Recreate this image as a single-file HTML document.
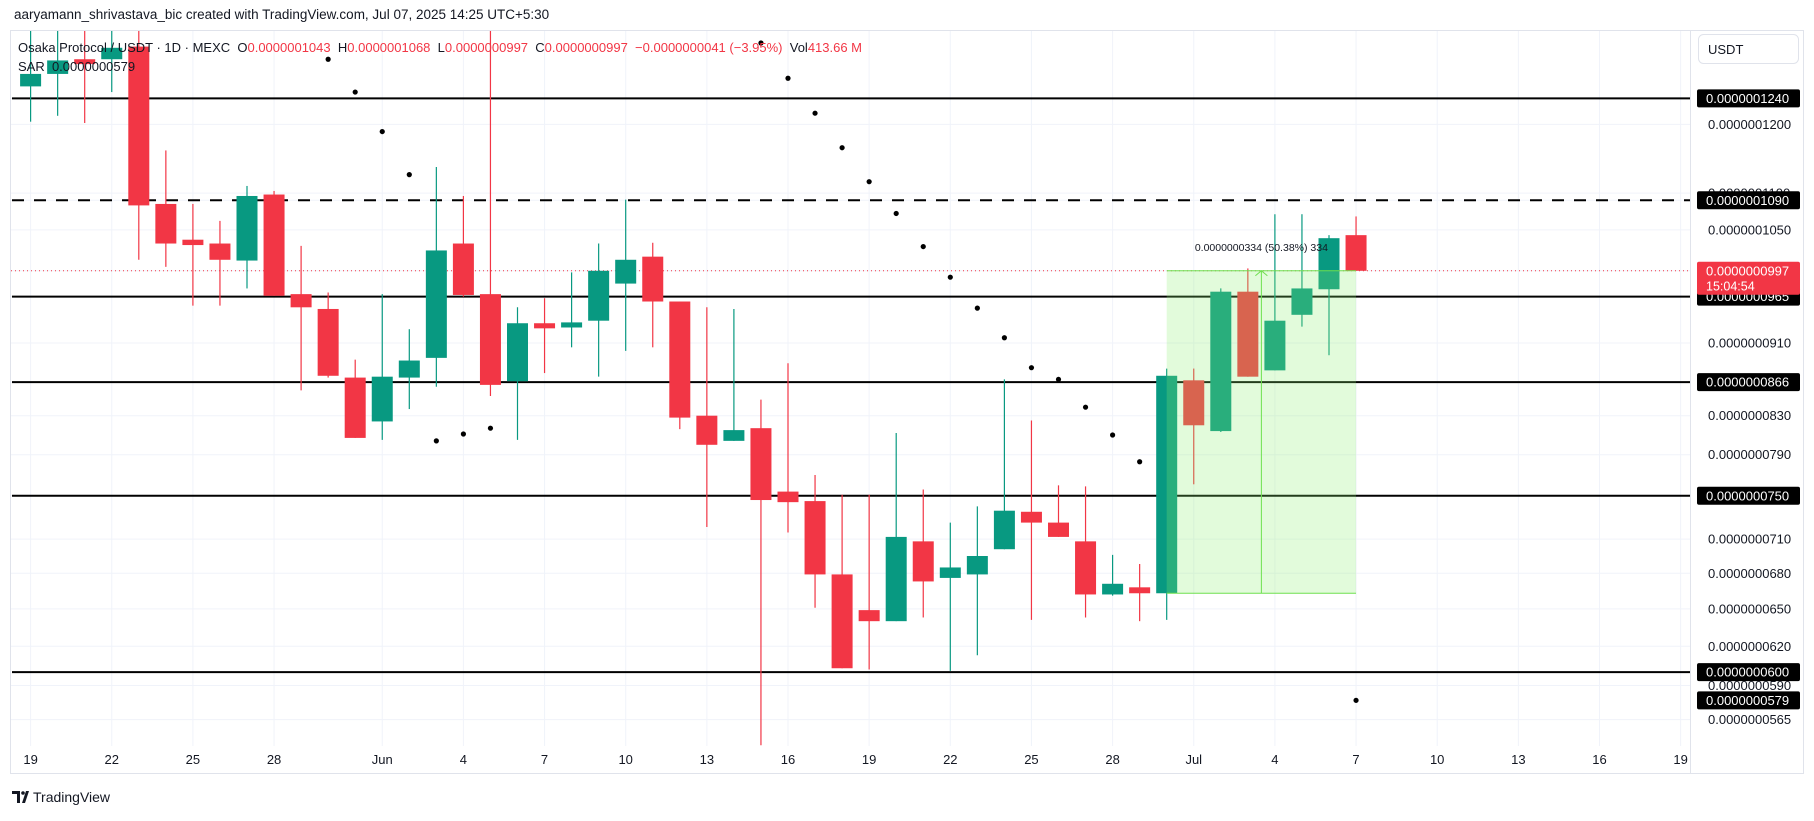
<!DOCTYPE html>
<html><head><meta charset="utf-8">
<style>
body{margin:0;background:#fff;width:1814px;height:816px;overflow:hidden;font-family:"Liberation Sans",sans-serif}
svg text{font-family:"Liberation Sans",sans-serif}
</style></head>
<body>
<svg id="c" width="1814" height="816" xmlns="http://www.w3.org/2000/svg">
<defs><clipPath id="pc"><rect x="11" y="31" width="1679" height="715"/></clipPath></defs>
<text x="14" y="19" font-size="13.5" fill="#131722">aaryamann_shrivastava_bic created with TradingView.com, Jul 07, 2025 14:25 UTC+5:30</text>
<rect x="10.5" y="30.5" width="1793" height="743" fill="none" stroke="#e0e3eb"/>
<line x1="1690.5" y1="31" x2="1690.5" y2="773" stroke="#e0e3eb"/>
<g id="grid"></g>
<g id="plot" clip-path="url(#pc)"></g>
<g id="axis"></g>
<g id="overlay"></g>
</svg>
<script>
const days=[0,1,2,3,4,5,6,7,8,9,10,11,12,13,14,15,16,17,18,19,20,21,22,23,24,25,26,27,28,29,30,31,32,33,34,35,36,37,38,39,40,41,42,43,44,45,46,47,48,49];
const opens=[1259,1279,1303,1303,1324,1085,1037,1032,1010,1098,968,950,871,824,871,893,1032,968,867,933,928,936,981,1015,959,830,804,817,754,745,679,649,640,708,676,679,701,735,725,708,662,668,663,868,814,971,879,943,974,1043];
const highs=[1368,1377,1368,1360,1360,1161,1085,1062,1110,1103,1029,970,891,968,926,1137,1096,1360,952,963,995,1032,1091,1033,959,952,950,847,887,770,751,751,812,756,725,740,869,825,760,759,696,688,881,881,975,1000,1071,1071,1043,1068];
const lows=[1204,1213,1202,1250,1011,1002,954,954,975,966,857,871,807,805,837,861,965,851,805,876,905,872,901,905,816,721,804,547,716,651,603,602,640,643,601,613,701,641,712,643,661,640,641,761,813,872,879,929,896,997];
const closes=[1279,1301,1295,1322,1083,1032,1030,1011,1096,966,952,873,807,872,890,1023,967,863,933,927,934,997,1011,959,828,800,815,746,744,679,603,640,712,673,685,695,736,725,712,662,671,663,873,820,971,872,936,975,1039,997];
const sarDays=[11,12,13,14,15,16,17,27,28,29,30,31,32,33,34,35,36,37,38,39,40,41,49];
const sarVals=[1303,1250,1189,1126,804,811,817,1330,1272,1217,1165,1116,1072,1028,989,951,916,882,869,839,810,783,579];
const tickDays=[0,3,6,9,13,16,19,22,25,28,31,34,37,40,43,46,49,52,55,58,61];
const tickLabels=["19","22","25","28","Jun","4","7","10","13","16","19","22","25","28","Jul","4","7","10","13","16","19"];
const gridPrices=[1240,1200,1100,1090,1050,997,965,910,866,830,790,750,710,680,650,620,590,565];
const axisPrices=[1200,1100,1050,910,830,790,710,680,650,620,590,565];
const levelPrices=[1240,1090,965,866,750,600];
const levelDashed=[false,true,false,false,false,false];
const lastPrice=997;
const rangeFrom=663, rangeTo=997, rangeStart=42, rangeEnd=49;

const NS="http://www.w3.org/2000/svg";
const X=d=>30.6+d*27.05;
const Y=v=>98.4+Math.log(1240/v)*790.4;
const fmt=v=>"0.000000"+String(Math.round(v)).padStart(4,"0");
function el(tag,attrs,parent,txt){const e=document.createElementNS(NS,tag);for(const k in attrs)e.setAttribute(k,attrs[k]);if(txt!==undefined)e.textContent=txt;parent.appendChild(e);return e;}
const grid=document.getElementById('grid'),plot=document.getElementById('plot'),axis=document.getElementById('axis'),ov=document.getElementById('overlay');

gridPrices.forEach(p=>{const g=el('line',{x1:11,x2:1690,y1:Y(p),y2:Y(p),stroke:'#f0f3fa'},grid);

});
tickDays.forEach((d,i)=>{const g=el('line',{x1:X(d),x2:X(d),y1:31,y2:746,stroke:'#f0f3fa'},grid);


const t=el('text',{x:X(d),y:764,'font-size':13,'text-anchor':'middle',fill:'#131722'},axis,tickLabels[i]);

});

const lp=el('line',{x1:11,x2:1690,y1:Y(lastPrice),y2:Y(lastPrice),stroke:'#f23645','stroke-dasharray':'1 3'},plot);



levelPrices.forEach((p,i)=>{const l=el('line',{x1:12,x2:1690,y1:Y(p),y2:Y(p),stroke:'#000','stroke-width':2},plot);
if(levelDashed[i])l.setAttribute('stroke-dasharray','12 10');

});

days.forEach((d,i)=>{const up=closes[i]>=opens[i];const col=up?'#089981':'#f23645';
const g=el('g',{},plot);


el('line',{x1:X(d),x2:X(d),y1:Y(highs[i]),y2:Y(lows[i]),stroke:col,'stroke-width':1.2},g);
const t=Math.min(Y(opens[i]),Y(closes[i])),h=Math.max(1.5,Math.abs(Y(opens[i])-Y(closes[i])));
el('rect',{x:X(d)-10.5,y:t,width:21,height:h,fill:col},g);});

sarDays.forEach((d,i)=>{const c=el('circle',{cx:X(d),cy:Y(sarVals[i]),r:2.6,fill:'#000'},plot);

});

const rg=el('g',{},plot);


el('rect',{x:X(rangeStart),y:Y(rangeTo),width:X(rangeEnd)-X(rangeStart),height:Y(rangeFrom)-Y(rangeTo),fill:'rgba(140,240,110,0.25)'},rg);
el('line',{x1:X(rangeStart),x2:X(rangeEnd),y1:Y(rangeTo),y2:Y(rangeTo),stroke:'#6ee04f'},rg);
el('line',{x1:X(rangeStart),x2:X(rangeEnd),y1:Y(rangeFrom),y2:Y(rangeFrom),stroke:'#6ee04f'},rg);
const mx=(X(rangeStart)+X(rangeEnd))/2;
el('line',{x1:mx,x2:mx,y1:Y(rangeFrom),y2:Y(rangeTo),stroke:'#6ee04f'},rg);
el('path',{d:`M${mx-6} ${Y(rangeTo)+5} L${mx} ${Y(rangeTo)} L${mx+6} ${Y(rangeTo)+5}`,fill:'none',stroke:'#6ee04f'},rg);
el('text',{x:mx,y:Y(rangeTo)-20,'font-size':10.5,'text-anchor':'middle',fill:'#131722'},rg,"0.0000000"+String(Math.round(rangeTo-rangeFrom)).padStart(3,"0")+" (50.38%) 334");

axisPrices.forEach(p=>{const t=el('text',{x:1708,y:Y(p)+4.5,'font-size':13,fill:'#131722'},axis,fmt(p));

});
levelPrices.concat([579]).forEach(p=>{const g=el('g',{},axis);


el('rect',{x:1697,y:Y(p)-9,width:103,height:18,fill:'#000',rx:2},g);
el('text',{x:1706,y:Y(p)+4.5,'font-size':13,fill:'#fff'},g,fmt(p));});
const lg=el('g',{},axis);


el('rect',{x:1697,y:Y(lastPrice)-9,width:103,height:33,fill:'#f23645',rx:2},lg);
el('text',{x:1706,y:Y(lastPrice)+4.5,'font-size':13,fill:'#fff'},lg,fmt(lastPrice));
el('text',{x:1706,y:Y(lastPrice)+19.5,'font-size':12.5,fill:'#fff'},lg,"15:04:54");

const leg=el('text',{x:18,y:52,'font-size':13,fill:'#131722'},ov);


[["Osaka Protocol / USDT · 1D · MEXC  O","#131722"],["0.0000001043","#f23645"],["  H","#131722"],["0.0000001068","#f23645"],["  L","#131722"],["0.0000000997","#f23645"],["  C","#131722"],["0.0000000997","#f23645"],["  −0.0000000041 (−3.95%)","#f23645"],["  Vol","#131722"],["413.66 M","#f23645"]].forEach(([s,c])=>{el('tspan',{fill:c},leg,s);});
leg.style.whiteSpace='pre';
const sar=el('text',{x:18,y:71,'font-size':13,fill:'#131722'},ov,"SAR  0.0000000579");


sar.style.whiteSpace='pre';

const ub=el('g',{},ov);


el('rect',{x:1698.5,y:34.5,width:100,height:29,rx:5,fill:'#fff',stroke:'#e0e3eb'},ub);
el('text',{x:1708,y:54,'font-size':13,fill:'#131722'},ub,"USDT");

const lo=el('g',{},ov);


el('path',{d:'M12 791h8v12h-3v-9h-5z M22 803l4-12h3l-4 12z',fill:'#131722'},lo);
el('circle',{cx:23,cy:793,r:1.8,fill:'#131722'},lo);
el('text',{x:33,y:802,'font-size':14,fill:'#131722'},lo,"TradingView");
</script>
</body></html>
